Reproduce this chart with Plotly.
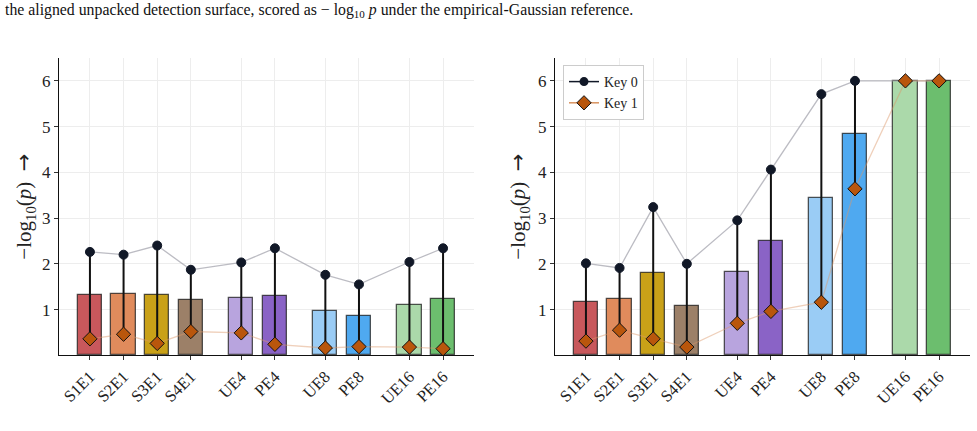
import plotly.graph_objects as go

labels = ["S1E1", "S2E1", "S3E1", "S4E1", "UE4", "PE4", "UE8", "PE8", "UE16", "PE16"]
positions = [0, 1, 2, 3, 4.5, 5.5, 7, 8, 9.5, 10.5]
bar_colors = ["#C8585C", "#E08B5C", "#C9A118", "#9C8068", "#B8A4DE",
              "#8A63C6", "#9ACCF5", "#4FA9F0", "#ABD9AA", "#6CBE6E"]

left_bars = [1.31, 1.33, 1.32, 1.20, 1.26, 1.29, 0.96, 0.87, 1.11, 1.24]
left_key0 = [2.26, 2.20, 2.40, 1.87, 2.03, 2.34, 1.76, 1.55, 2.04, 2.34]
left_key1 = [0.36, 0.46, 0.26, 0.52, 0.49, 0.24, 0.16, 0.19, 0.18, 0.145]

right_bars = [1.16, 1.23, 1.80, 1.08, 1.83, 2.51, 3.43, 4.83, 6.0, 6.0]
right_key0 = [2.01, 1.91, 3.24, 2.00, 2.95, 4.06, 5.71, 6.0, 6.0, 6.0]
right_key1 = [0.31, 0.55, 0.36, 0.18, 0.70, 0.96, 1.16, 3.64, 6.0, 6.0]

ytick_vals = [1, 2, 3, 4, 5, 6]

W, H = 977, 431
SERIF = "Liberation Serif, DejaVu Serif, serif"
DOT = "#111827"
DIAM = "#B9560C"

fig = go.Figure()

panels = [
    (left_bars, left_key0, left_key1, "x", "y", 59, 474),
    (right_bars, right_key0, right_key1, "x2", "y2", 555, 970),
]
y_top_px, y_bot_px = 58, 355.3

for i, (bars, k0, k1, xa, ya, xl, xr) in enumerate(panels):
    fig.add_trace(go.Bar(
        x=positions, y=bars, width=0.72, xaxis=xa, yaxis=ya,
        marker=dict(color=bar_colors, line=dict(color="rgba(30,30,30,0.75)", width=1.3)),
        showlegend=False, hoverinfo="skip"))
    fig.add_trace(go.Scatter(
        x=positions, y=k0, xaxis=xa, yaxis=ya, mode="lines",
        line=dict(color="rgba(160,160,170,0.7)", width=1.3), showlegend=False, hoverinfo="skip"))
    fig.add_trace(go.Scatter(
        x=positions, y=k1, xaxis=xa, yaxis=ya, mode="lines",
        line=dict(color="rgba(220,150,105,0.45)", width=1.3), showlegend=False, hoverinfo="skip"))
    sx, sy = [], []
    for p, a, b in zip(positions, k1, k0):
        sx += [p, p, None]
        sy += [a, b, None]
    fig.add_trace(go.Scatter(
        x=sx, y=sy, xaxis=xa, yaxis=ya, mode="lines",
        line=dict(color="#111111", width=2), showlegend=False, hoverinfo="skip"))
    fig.add_trace(go.Scatter(
        x=positions, y=k0, xaxis=xa, yaxis=ya, mode="markers",
        marker=dict(symbol="circle", size=9, color=DOT, line=dict(color=DOT, width=1)),
        showlegend=False, hoverinfo="skip"))
    fig.add_trace(go.Scatter(
        x=positions, y=k1, xaxis=xa, yaxis=ya, mode="markers",
        marker=dict(symbol="diamond", size=11, color=DIAM, line=dict(color="#111111", width=1)),
        showlegend=False, hoverinfo="skip"))

# legend entries (right panel)
fig.add_trace(go.Scatter(x=[None], y=[None], xaxis="x2", yaxis="y2", mode="lines+markers",
                         name="Key 0", line=dict(color=DOT, width=1.5),
                         marker=dict(symbol="circle", size=9, color=DOT)))
fig.add_trace(go.Scatter(x=[None], y=[None], xaxis="x2", yaxis="y2", mode="lines+markers",
                         name="Key 1", line=dict(color="#D9935F", width=1.5),
                         marker=dict(symbol="diamond", size=11, color=DIAM, line=dict(color="#111111", width=1))))

ydom = [(H - y_bot_px) / H, (H - y_top_px) / H]

def xaxis(xl, xr, anchor):
    return dict(domain=[xl / W, xr / W], range=[-0.92, 11.42], anchor=anchor,
                tickmode="array", tickvals=positions, ticktext=labels, tickangle=-45,
                showgrid=True, gridcolor="#EDEDED", gridwidth=1,
                showline=True, linecolor="#111111", linewidth=1.3,
                ticks="outside", ticklen=4, tickcolor="#333333",
                tickfont=dict(family=SERIF, size=16.5, color="#222222"), zeroline=False)

def yaxis(anchor):
    return dict(domain=ydom, range=[0, 6.5], anchor=anchor,
                tickmode="array", tickvals=ytick_vals,
                showgrid=True, gridcolor="#EDEDED", gridwidth=1,
                showline=True, linecolor="#111111", linewidth=1.3,
                ticks="outside", ticklen=4, tickcolor="#333333",
                tickfont=dict(family=SERIF, size=17, color="#222222"), zeroline=False)

fig.update_layout(
    width=W, height=H, margin=dict(l=0, r=0, t=0, b=0),
    paper_bgcolor="white", plot_bgcolor="white",
    xaxis=xaxis(59, 474, "y"), yaxis=yaxis("x"),
    xaxis2=xaxis(555, 970, "y2"), yaxis2=yaxis("x2"),
    bargap=0,
    legend=dict(x=563 / W, y=(H - 65) / H, xanchor="left", yanchor="top",
                bgcolor="white", bordercolor="#CCCCCC", borderwidth=1,
                font=dict(family=SERIF, size=14, color="#222222"),
                tracegroupgap=0, itemwidth=30),
    showlegend=True,
)

ylabel = ("\u2212log<sub>10</sub>(<i>p</i>)  "
          "<span style='font-family:DejaVu Sans'>\u2192</span>")
for xc in (25, 519):
    fig.add_annotation(text=ylabel, xref="paper", yref="paper",
                       x=xc / W, y=(ydom[0] + ydom[1]) / 2, textangle=-90,
                       showarrow=False, xanchor="center", yanchor="middle",
                       font=dict(family=SERIF, size=21, color="#222222"))

fig.add_annotation(
    text="the aligned unpacked detection surface, scored as \u2212 log<sub>10</sub> <i>p</i> under the empirical-Gaussian reference.",
    xref="paper", yref="paper", x=3 / W, y=(H - 10) / H, xanchor="left", yanchor="middle",
    showarrow=False, font=dict(family="Liberation Serif, serif", size=15.8, color="#111111"))

fig.write_html("out.html")
